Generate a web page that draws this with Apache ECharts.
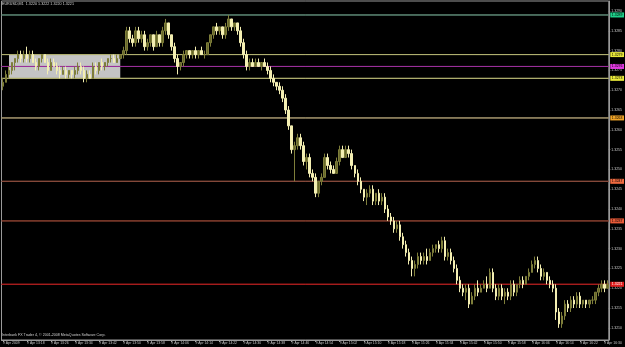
<!DOCTYPE html>
<html>
<head>
<meta charset="utf-8">
<script src="https://cdn.jsdelivr.net/npm/echarts@6/dist/echarts.min.js"></script>
<style>
html,body{margin:0;padding:0;background:#000;}
#c{width:625px;height:347px;}
</style>
</head>
<body>
<div id="c"></div>
<script>
const opens = [
1.3271,1.3272,1.3274,1.3275,1.3277,1.3278,1.3279,1.3278,1.3279,1.3278,
1.3279,1.3277,1.3276,1.3278,1.3279,1.3277,1.3275,1.3277,1.3276,1.3275,
1.3274,1.3275,1.3274,1.3275,1.3274,1.3275,1.3276,1.3275,1.3273,1.3274,
1.3273,1.3276,1.3275,1.3277,1.3276,1.3277,1.3278,1.3278,1.3277,1.3278,
1.3279,1.3280,1.3285,1.3283,1.3282,1.3285,1.3283,1.3284,1.3281,1.3282,
1.3284,1.3281,1.3284,1.3282,1.3285,1.3287,1.3284,1.3281,1.3278,1.3276,
1.3277,1.3279,1.3280,1.3279,1.3280,1.3279,1.3280,1.3279,1.3279,1.3282,
1.3284,1.3286,1.3285,1.3286,1.3284,1.3286,1.3288,1.3286,1.3287,1.3285,
1.3282,1.3279,1.3276,1.3277,1.3276,1.3277,1.3276,1.3277,1.3276,1.3275,
1.3273,1.3272,1.3271,1.3270,1.3268,1.3265,1.3261,1.3255,1.3256,1.3258,
1.3256,1.3252,1.3253,1.3249,1.3248,1.3244,1.3247,1.3248,1.3253,1.3251,
1.3250,1.3249,1.3252,1.3255,1.3253,1.3255,1.3254,1.3251,1.3249,1.3247,
1.3245,1.3243,1.3244,1.3245,1.3242,1.3244,1.3242,1.3243,1.3240,1.3238,
1.3237,1.3235,1.3236,1.3233,1.3231,1.3229,1.3227,1.3225,1.3226,1.3228,
1.3227,1.3228,1.3227,1.3229,1.3230,1.3231,1.3230,1.3232,1.3228,1.3229,
1.3227,1.3225,1.3222,1.3220,1.3219,1.3220,1.3216,1.3218,1.3220,1.3219,
1.3220,1.3221,1.3220,1.3224,1.3220,1.3218,1.3220,1.3218,1.3219,1.3218,
1.3221,1.3219,1.3221,1.3222,1.3221,1.3223,1.3224,1.3226,1.3227,1.3225,
1.3223,1.3224,1.3222,1.3221,1.3220,1.3214,1.3211,1.3213,1.3216,1.3215,
1.3217,1.3216,1.3218,1.3216,1.3217,1.3216,1.3217,1.3217,1.3219,1.3220,
1.3221,1.3220
];
const highs = [
1.3273,1.3275,1.3276,1.3277,1.3278,1.3280,1.3280,1.3280,1.3281,1.3280,
1.3280,1.3278,1.3278,1.3279,1.3279,1.3278,1.3278,1.3278,1.3277,1.3276,
1.3276,1.3276,1.3275,1.3275,1.3276,1.3277,1.3277,1.3276,1.3275,1.3275,
1.3277,1.3277,1.3277,1.3278,1.3277,1.3278,1.3279,1.3279,1.3279,1.3279,
1.3281,1.3286,1.3286,1.3284,1.3286,1.3286,1.3285,1.3285,1.3283,1.3284,
1.3284,1.3285,1.3284,1.3286,1.3288,1.3287,1.3284,1.3282,1.3279,1.3277,
1.3280,1.3280,1.3280,1.3280,1.3281,1.3280,1.3281,1.3280,1.3282,1.3284,
1.3286,1.3287,1.3286,1.3286,1.3287,1.3289,1.3288,1.3287,1.3287,1.3286,
1.3283,1.3280,1.3278,1.3278,1.3278,1.3278,1.3277,1.3278,1.3277,1.3276,
1.3274,1.3272,1.3272,1.3271,1.3269,1.3266,1.3261,1.3257,1.3259,1.3259,
1.3257,1.3254,1.3254,1.3250,1.3249,1.3247,1.3249,1.3254,1.3254,1.3252,
1.3251,1.3253,1.3256,1.3256,1.3256,1.3256,1.3255,1.3251,1.3250,1.3248,
1.3245,1.3245,1.3246,1.3246,1.3244,1.3245,1.3244,1.3244,1.3241,1.3239,
1.3238,1.3237,1.3237,1.3234,1.3232,1.3230,1.3228,1.3227,1.3229,1.3229,
1.3229,1.3230,1.3230,1.3231,1.3231,1.3232,1.3233,1.3233,1.3230,1.3230,
1.3228,1.3226,1.3223,1.3221,1.3221,1.3221,1.3219,1.3221,1.3222,1.3221,
1.3222,1.3223,1.3225,1.3225,1.3221,1.3221,1.3221,1.3220,1.3220,1.3222,
1.3222,1.3221,1.3223,1.3223,1.3223,1.3225,1.3227,1.3228,1.3228,1.3226,
1.3225,1.3224,1.3223,1.3222,1.3221,1.3215,1.3214,1.3217,1.3217,1.3218,
1.3218,1.3219,1.3219,1.3217,1.3217,1.3217,1.3218,1.3219,1.3221,1.3222,
1.3222,1.3222
];
const lows = [
1.3270,1.3272,1.3273,1.3274,1.3275,1.3277,1.3277,1.3277,1.3277,1.3277,
1.3277,1.3275,1.3275,1.3277,1.3277,1.3274,1.3275,1.3276,1.3274,1.3273,
1.3274,1.3273,1.3273,1.3273,1.3273,1.3274,1.3274,1.3272,1.3272,1.3273,
1.3273,1.3274,1.3274,1.3275,1.3275,1.3276,1.3277,1.3277,1.3277,1.3278,
1.3278,1.3279,1.3282,1.3281,1.3281,1.3282,1.3282,1.3280,1.3280,1.3281,
1.3280,1.3281,1.3281,1.3281,1.3284,1.3283,1.3280,1.3277,1.3274,1.3275,
1.3276,1.3278,1.3278,1.3278,1.3278,1.3278,1.3279,1.3278,1.3279,1.3281,
1.3283,1.3284,1.3284,1.3283,1.3283,1.3285,1.3285,1.3285,1.3284,1.3281,
1.3278,1.3275,1.3275,1.3276,1.3276,1.3276,1.3275,1.3276,1.3274,1.3272,
1.3271,1.3270,1.3269,1.3267,1.3264,1.3260,1.3254,1.3247,1.3255,1.3255,
1.3251,1.3250,1.3248,1.3247,1.3243,1.3243,1.3246,1.3248,1.3250,1.3249,
1.3249,1.3249,1.3251,1.3253,1.3253,1.3253,1.3250,1.3248,1.3246,1.3244,
1.3242,1.3241,1.3243,1.3241,1.3241,1.3241,1.3241,1.3239,1.3237,1.3236,
1.3234,1.3234,1.3232,1.3230,1.3228,1.3226,1.3223,1.3223,1.3225,1.3226,
1.3226,1.3226,1.3227,1.3228,1.3229,1.3229,1.3229,1.3227,1.3227,1.3226,
1.3224,1.3221,1.3219,1.3218,1.3217,1.3215,1.3216,1.3217,1.3218,1.3219,
1.3220,1.3219,1.3220,1.3219,1.3217,1.3217,1.3217,1.3216,1.3217,1.3217,
1.3218,1.3218,1.3220,1.3220,1.3221,1.3222,1.3224,1.3225,1.3224,1.3222,
1.3222,1.3221,1.3220,1.3219,1.3212,1.3210,1.3210,1.3212,1.3214,1.3214,
1.3215,1.3215,1.3215,1.3215,1.3215,1.3215,1.3216,1.3216,1.3218,1.3219,
1.3219,1.3220
];
const closes = [
1.3272,1.3274,1.3275,1.3277,1.3278,1.3279,1.3278,1.3279,1.3278,1.3279,
1.3277,1.3276,1.3278,1.3279,1.3277,1.3275,1.3277,1.3276,1.3275,1.3274,
1.3275,1.3274,1.3275,1.3274,1.3275,1.3276,1.3275,1.3273,1.3274,1.3273,
1.3276,1.3275,1.3277,1.3276,1.3277,1.3278,1.3278,1.3277,1.3278,1.3279,
1.3280,1.3285,1.3283,1.3282,1.3285,1.3283,1.3284,1.3281,1.3282,1.3284,
1.3281,1.3284,1.3282,1.3285,1.3287,1.3284,1.3281,1.3278,1.3276,1.3277,
1.3279,1.3280,1.3279,1.3280,1.3279,1.3280,1.3279,1.3279,1.3282,1.3284,
1.3286,1.3285,1.3286,1.3284,1.3286,1.3288,1.3286,1.3287,1.3285,1.3282,
1.3279,1.3276,1.3277,1.3276,1.3277,1.3276,1.3277,1.3276,1.3275,1.3273,
1.3272,1.3271,1.3270,1.3268,1.3265,1.3261,1.3255,1.3256,1.3258,1.3256,
1.3252,1.3253,1.3249,1.3248,1.3244,1.3247,1.3248,1.3253,1.3251,1.3250,
1.3249,1.3252,1.3255,1.3253,1.3255,1.3254,1.3251,1.3249,1.3247,1.3245,
1.3243,1.3244,1.3245,1.3242,1.3244,1.3242,1.3243,1.3240,1.3238,1.3237,
1.3235,1.3236,1.3233,1.3231,1.3229,1.3227,1.3225,1.3226,1.3228,1.3227,
1.3228,1.3227,1.3229,1.3230,1.3231,1.3230,1.3232,1.3228,1.3229,1.3227,
1.3225,1.3222,1.3220,1.3219,1.3220,1.3216,1.3218,1.3220,1.3219,1.3220,
1.3221,1.3220,1.3224,1.3220,1.3218,1.3220,1.3218,1.3219,1.3218,1.3221,
1.3219,1.3221,1.3222,1.3221,1.3223,1.3224,1.3226,1.3227,1.3225,1.3223,
1.3224,1.3222,1.3221,1.3220,1.3214,1.3211,1.3213,1.3216,1.3215,1.3217,
1.3216,1.3218,1.3216,1.3217,1.3216,1.3217,1.3217,1.3219,1.3220,1.3221,
1.3220,1.3221
];
// bottom time labels, one every 8 bars
const timeLabels = ['9 Apr 2009','9 Apr 13:18','9 Apr 13:26','9 Apr 13:34','9 Apr 13:42','9 Apr 13:50',
'9 Apr 13:58','9 Apr 14:06','9 Apr 14:14','9 Apr 14:22','9 Apr 14:30','9 Apr 14:38','9 Apr 14:46',
'9 Apr 14:54','9 Apr 15:02','9 Apr 15:10','9 Apr 15:18','9 Apr 15:26','9 Apr 15:34','9 Apr 15:42',
'9 Apr 15:50','9 Apr 15:58','9 Apr 16:06','9 Apr 16:14','9 Apr 16:22','9 Apr 16:30'];
const labelEvery = 8;
const priceTicks = [1.3210,1.3215,1.3220,1.3225,1.3230,1.3235,1.3240,1.3245,1.3250,1.3255,
1.3260,1.3265,1.3270,1.3275,1.3280,1.3285,1.3290];
// horizontal level lines
const levelPrices = [1.3289,1.3279,1.3276,1.3273,1.3263,1.3247,1.3237,1.3221];
const levelLineColors = ['#5f8a78','#b0b070','#9a2f9a','#b0b070','#a89a70','#8a4c3c','#8a4030','#b01e1e'];
const levelBoxColors = ['#1fd08a','#eaea3a','#e03ae0','#eaea3a','#f0a428','#f06a40','#e85a38','#e01c1c'];
const levelTextColors = ['#000','#000','#000','#000','#000','#000','#000','#fff'];
// grey rectangle zone
const zoneStart = 2.3, zoneEnd = 39.2;
const zoneTop = 1.3279, zoneBottom = 1.3273;
const titleText = 'EURUSD,M1  1.3220 1.3222 1.3220 1.3221';
const footerText = 'Interbank FX Trader 4, \u00A9 2001-2008 MetaQuotes Software Corp.';

const cats = opens.map((_, i) => String(i));
const candleData = opens.map((o, i) => [o, closes[i], lows[i], highs[i]]);

const chart = echarts.init(document.getElementById('c'), null, {renderer: 'canvas'});
const FONT = 'Liberation Sans';

const zoneItems = [[{xAxis: zoneStart, yAxis: zoneTop, itemStyle: {color: '#c4c4c4', borderWidth: 0}, label: {show: false}},
                    {xAxis: zoneEnd, yAxis: zoneBottom}]];
const levelItems = levelPrices.map((p, k) => [
  {yAxis: p, itemStyle: {color: 'rgba(0,0,0,0)', borderColor: levelLineColors[k], borderWidth: 1},
   label: {show: true, position: 'right', distance: 1, formatter: p.toFixed(4),
     fontSize: 3.5, fontFamily: FONT, color: levelTextColors[k],
     backgroundColor: levelBoxColors[k], padding: [0.6, 1.5, 0.4, 1.5]}},
  {yAxis: p}
]);

chart.setOption({
  backgroundColor: '#000000',
  animation: false,
  grid: {left: 1.5, right: 14.5, top: 1, bottom: 7, show: true, borderColor: '#9a9a9a', borderWidth: 1, backgroundColor: '#000'},
  xAxis: {
    type: 'category', data: cats, boundaryGap: true,
    axisLine: {show: true, lineStyle: {color: '#9a9a9a', width: 1}},
    axisTick: {show: true, alignWithLabel: true, length: 2, interval: (i) => i % labelEvery === 0, lineStyle: {color: '#9a9a9a'}},
    axisLabel: {
      show: true, interval: (i) => i % labelEvery === 0, align: 'left', margin: 1.5,
      fontSize: 3.4, fontFamily: FONT, color: '#c8c8c8',
      formatter: (v, i) => (i % labelEvery === 0 ? (timeLabels[i / labelEvery] || '') : '')
    },
    splitLine: {show: false}
  },
  yAxis: {
    type: 'value', position: 'right', scale: true,
    min: 1.320693, max: 1.329253, interval: 0.0005,
    axisLine: {show: true, lineStyle: {color: '#9a9a9a', width: 1}},
    axisTick: {show: true, length: 1.5, customValues: priceTicks, lineStyle: {color: '#9a9a9a'}},
    axisLabel: {show: true, customValues: priceTicks, margin: 2.5, fontSize: 3.5, fontFamily: FONT, color: '#c8c8c8',
      formatter: (v) => Number(v).toFixed(4)},
    splitLine: {show: false}
  },
  graphic: [
    {type: 'text', left: 2, top: 1.5, z: 100, style: {text: titleText, fill: '#d8d8d8', font: '3.7px ' + FONT}},
    {type: 'text', left: 2, top: 332.5, z: 100, style: {text: footerText, fill: '#d0d0d0', font: '3.6px ' + FONT}}
  ],
  series: [
    {
      type: 'line', data: [], z: 1, silent: true,
      markArea: {silent: true, data: zoneItems.concat(levelItems)}
    },
    {
      type: 'candlestick', z: 2, data: candleData, barWidth: 2,
      itemStyle: {
        color: '#66662a', borderColor: '#7e7e3a',
        color0: '#f4efb2', borderColor0: '#f4efb2', borderWidth: 1
      }
    }
  ]
});
</script>
</body>
</html>
